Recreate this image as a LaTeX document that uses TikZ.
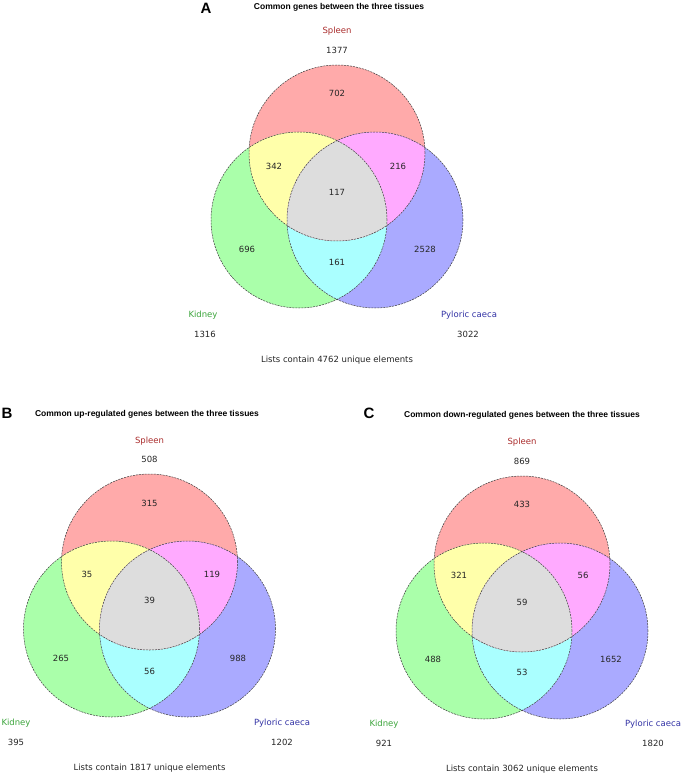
\documentclass[tikz,border=0pt]{standalone}
\usepackage{fontspec}
\setmainfont{DejaVu Sans}
\newfontfamily\titlefont{Liberation Sans}
\usepackage{tikz}

\definecolor{spleenfill}{RGB}{255,170,170}
\definecolor{kidneyfill}{RGB}{170,255,170}
\definecolor{pylfill}{RGB}{170,170,255}
\definecolor{skfill}{RGB}{255,255,170}
\definecolor{spfill}{RGB}{255,170,255}
\definecolor{kpfill}{RGB}{170,255,255}
\definecolor{allfill}{RGB}{221,221,221}
\definecolor{spleentext}{RGB}{170,45,45}
\definecolor{kidneytext}{RGB}{60,165,60}
\definecolor{pyltext}{RGB}{50,50,165}

\tikzset{
  num/.style={font=\fontsize{8.5}{10}\selectfont, text=black!85, inner sep=0pt},
  ttl/.style={font=\titlefont\bfseries\fontsize{8.5}{10}\selectfont, inner sep=0pt},
  paneltag/.style={font=\titlefont\bfseries\fontsize{15}{17}\selectfont, inner sep=0pt},
  outline/.style={draw=black!75, line width=0.5pt, dash pattern=on 2pt off 1pt},
}

% three circles of one panel, #1 = prefix of the names
\newcommand{\venncircles}[1]{%
  \coordinate (#1s) at (0,-67);
  \coordinate (#1k) at (-38,0);
  \coordinate (#1p) at (38,0);
  \fill[spleenfill] (#1s) circle[radius=88pt];
  \fill[kidneyfill] (#1k) circle[radius=88pt];
  \fill[pylfill] (#1p) circle[radius=88pt];
  \begin{scope}
    \clip (#1k) circle[radius=88pt];
    \fill[kpfill] (#1p) circle[radius=88pt];
  \end{scope}
  \begin{scope}
    \clip (#1s) circle[radius=88pt];
    \fill[skfill] (#1k) circle[radius=88pt];
    \fill[spfill] (#1p) circle[radius=88pt];
    \clip (#1k) circle[radius=88pt];
    \fill[allfill] (#1p) circle[radius=88pt];
  \end{scope}
  \draw[outline] (#1s) circle[radius=88pt];
  \draw[outline] (#1k) circle[radius=88pt];
  \draw[outline] (#1p) circle[radius=88pt];
}

\begin{document}
\begin{tikzpicture}[x=1pt, y=-1pt]
  \useasboundingbox[fill=white] (0,0) rectangle (685,775);

  % A: all genes
  \begin{scope}[shift={(337,220)}]
    \venncircles{A-}
    \node[paneltag] (A-tag) at (-131,-212) {A};
    \node[ttl] (A-title) at (2,-213) {Common genes between the three tissues};
    \node[num, text=spleentext] (A-spleen) at (0,-189) {Spleen};
    \node[num] (A-spleen-n) at (0,-170) {1377};
    \node[num] (A-s-only) at (0,-127) {702};
    \node[num] (A-sk) at (-63,-54) {342};
    \node[num] (A-sp) at (61,-54) {216};
    \node[num] (A-all) at (0,-28) {117};
    \node[num] (A-k-only) at (-90,29) {696};
    \node[num] (A-p-only) at (88,29) {2528};
    \node[num] (A-kp) at (0,42) {161};
    \node[num, text=kidneytext] (A-kidney) at (-134,95) {Kidney};
    \node[num] (A-kidney-n) at (-132,114) {1316};
    \node[num, text=pyltext] (A-pyl) at (132,95) {Pyloric caeca};
    \node[num] (A-pyl-n) at (131,114) {3022};
    \node[num] (A-total) at (0,140) {Lists contain 4762 unique elements};
  \end{scope}

  % B: up-regulated
  \begin{scope}[shift={(149.5,629)}]
    \venncircles{B-}
    \node[paneltag] (B-tag) at (-142.5,-216) {B};
    \node[ttl] (B-title) at (-2.5,-215) {Common up-regulated genes between the three tissues};
    \node[num, text=spleentext] (B-spleen) at (0,-188) {Spleen};
    \node[num] (B-spleen-n) at (0,-170) {508};
    \node[num] (B-s-only) at (0,-126) {315};
    \node[num] (B-sk) at (-62.5,-55) {35};
    \node[num] (B-sp) at (62.5,-55) {119};
    \node[num] (B-all) at (0,-29) {39};
    \node[num] (B-k-only) at (-88.5,29) {265};
    \node[num] (B-p-only) at (88.5,29) {988};
    \node[num] (B-kp) at (0,42) {56};
    \node[num, text=kidneytext] (B-kidney) at (-133.5,94) {Kidney};
    \node[num] (B-kidney-n) at (-133.5,113) {395};
    \node[num, text=pyltext] (B-pyl) at (132.5,94) {Pyloric caeca};
    \node[num] (B-pyl-n) at (132.5,113) {1202};
    \node[num] (B-total) at (0,139) {Lists contain 1817 unique elements};
  \end{scope}

  % C: down-regulated
  \begin{scope}[shift={(522,631)}]
    \venncircles{C-}
    \node[paneltag] (C-tag) at (-153,-218) {C};
    \node[ttl] (C-title) at (0,-216) {Common down-regulated genes between the three tissues};
    \node[num, text=spleentext] (C-spleen) at (0,-189) {Spleen};
    \node[num] (C-spleen-n) at (0,-170) {869};
    \node[num] (C-s-only) at (0,-127) {433};
    \node[num] (C-sk) at (-63,-56) {321};
    \node[num] (C-sp) at (61,-56) {56};
    \node[num] (C-all) at (0,-29) {59};
    \node[num] (C-k-only) at (-89,28) {488};
    \node[num] (C-p-only) at (89,28) {1652};
    \node[num] (C-kp) at (0,41) {53};
    \node[num, text=kidneytext] (C-kidney) at (-138,93) {Kidney};
    \node[num] (C-kidney-n) at (-138,112) {921};
    \node[num, text=pyltext] (C-pyl) at (131,93) {Pyloric caeca};
    \node[num] (C-pyl-n) at (131,112) {1820};
    \node[num] (C-total) at (0,138) {Lists contain 3062 unique elements};
  \end{scope}
\end{tikzpicture}
\end{document}
